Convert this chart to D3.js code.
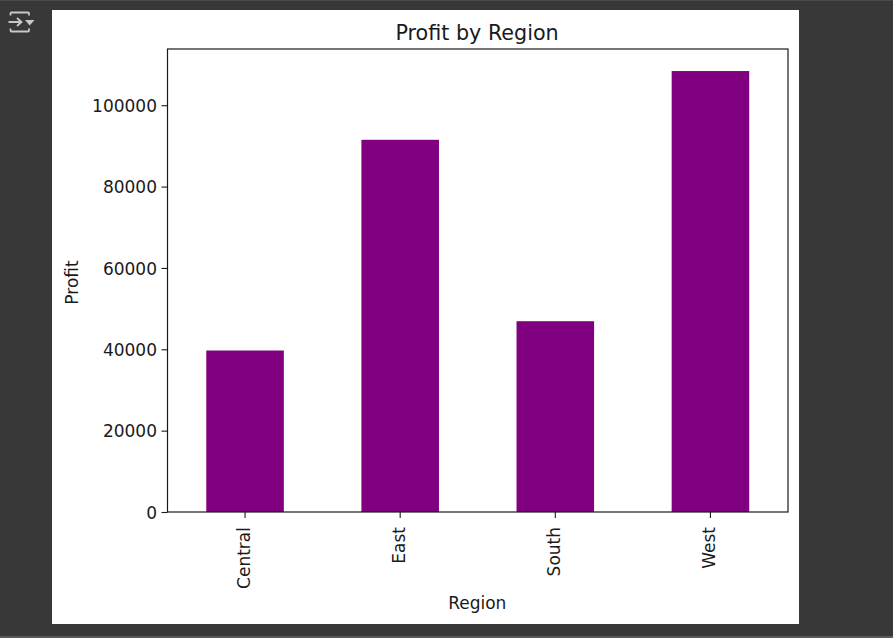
<!DOCTYPE html>
<html>
<head>
<meta charset="utf-8">
<script src="https://cdn.jsdelivr.net/npm/d3@7"></script>
<style>
  html, body { margin: 0; padding: 0; background: #383838; overflow: hidden; }
  text { font-family: "DejaVu Sans", sans-serif; fill: #1a1a1a; }
</style>
</head>
<body>
<div class="chart"></div>
<script>
const regions = ['Central', 'East', 'South', 'West'];
const profit = [39700, 91500, 46900, 108400];
const yTicks = [0, 20000, 40000, 60000, 80000, 100000];

const svg = d3.select('.chart')
  .append('svg')
    .attr('width', 893)
    .attr('height', 638)
    .style('display', 'block');

// notebook chrome
svg.append('rect').attr('x', 0).attr('y', 636).attr('width', 893).attr('height', 2).attr('fill', '#5a5a5a');
svg.append('rect').attr('x', 0).attr('y', 0).attr('width', 893).attr('height', 1).attr('fill', '#4a4a4a');
svg.append('rect').attr('x', 52).attr('y', 10).attr('width', 747).attr('height', 614).attr('fill', '#fff');

// output toggle icon
const icon = svg.append('g').attr('fill', 'none').attr('stroke', '#c8c8c8').attr('stroke-width', 1.8);
icon.append('path').attr('d', 'M10.5 15.5 V13.5 Q10.5 12.5 11.5 12.5 H28 Q29 12.5 29 13.5 V15.5');
icon.append('path').attr('d', 'M10.5 28.5 V30.5 Q10.5 31.5 11.5 31.5 H28 Q29 31.5 29 30.5 V28.5');
icon.append('path').attr('d', 'M8.5 22 H21 M17 18 L21.5 22 L17 26');
svg.append('path').attr('d', 'M25 20 H34.5 L29.7 25.5 Z').attr('fill', '#c8c8c8');

// margins of the axes box
const margin = { top: 49, right: 105, bottom: 126, left: 167.5 };
const graphWidth = 893 - margin.left - margin.right;
const graphHeight = 638 - margin.top - margin.bottom;

const graph = svg.append('g')
  .attr('transform', `translate(${margin.left}, ${margin.top})`);

const x = d3.scaleBand()
  .domain(regions)
  .range([0, graphWidth])
  .paddingInner(0.5)
  .paddingOuter(0.25);

const y = d3.scaleLinear()
  .domain([0, d3.max(profit) * 1.05])
  .range([graphHeight, 0]);

graph.selectAll('rect.bar')
  .data(regions)
  .enter()
  .append('rect')
    .attr('class', 'bar')
    .attr('x', d => x(d))
    .attr('y', (d, i) => y(profit[i]))
    .attr('width', x.bandwidth())
    .attr('height', (d, i) => graphHeight - y(profit[i]))
    .attr('fill', '#800080');

// axes
const xAxis = d3.axisBottom(x).tickSize(6).tickPadding(4.7);
const yAxis = d3.axisLeft(y).tickValues(yTicks).tickFormat(d => d).tickSize(6).tickPadding(4.5);

const xAxisGroup = graph.append('g')
  .attr('transform', `translate(0, ${graphHeight})`)
  .call(xAxis);
const yAxisGroup = graph.append('g').call(yAxis);

xAxisGroup.select('.domain').remove();
yAxisGroup.select('.domain').remove();
graph.selectAll('.tick line').attr('stroke', '#1a1a1a').attr('stroke-width', 1.1);
graph.selectAll('.tick text').attr('font-size', 17).attr('fill', '#1a1a1a');
yAxisGroup.selectAll('text').attr('dy', '0.37em');

xAxisGroup.selectAll('text')
  .attr('transform', 'rotate(-90)')
  .attr('text-anchor', 'end')
  .attr('dominant-baseline', 'central')
  .attr('x', -15)
  .attr('y', -1)
  .attr('dy', 0);

// frame
graph.append('rect')
  .attr('width', graphWidth)
  .attr('height', graphHeight)
  .attr('fill', 'none')
  .attr('stroke', '#1a1a1a')
  .attr('stroke-width', 1.2);

graph.append('text')
  .attr('x', graphWidth / 2 - 0.7)
  .attr('y', -9.5)
  .attr('text-anchor', 'middle')
  .attr('font-size', 20.7)
  .text('Profit by Region');

graph.append('text')
  .attr('x', graphWidth / 2 - 0.5)
  .attr('y', graphHeight + 97)
  .attr('text-anchor', 'middle')
  .attr('font-size', 17)
  .text('Region');

graph.append('text')
  .attr('transform', `translate(-90, ${graphHeight / 2 + 2}) rotate(-90)`)
  .attr('text-anchor', 'middle')
  .attr('font-size', 17)
  .text('Profit');
</script>
</body>
</html>
